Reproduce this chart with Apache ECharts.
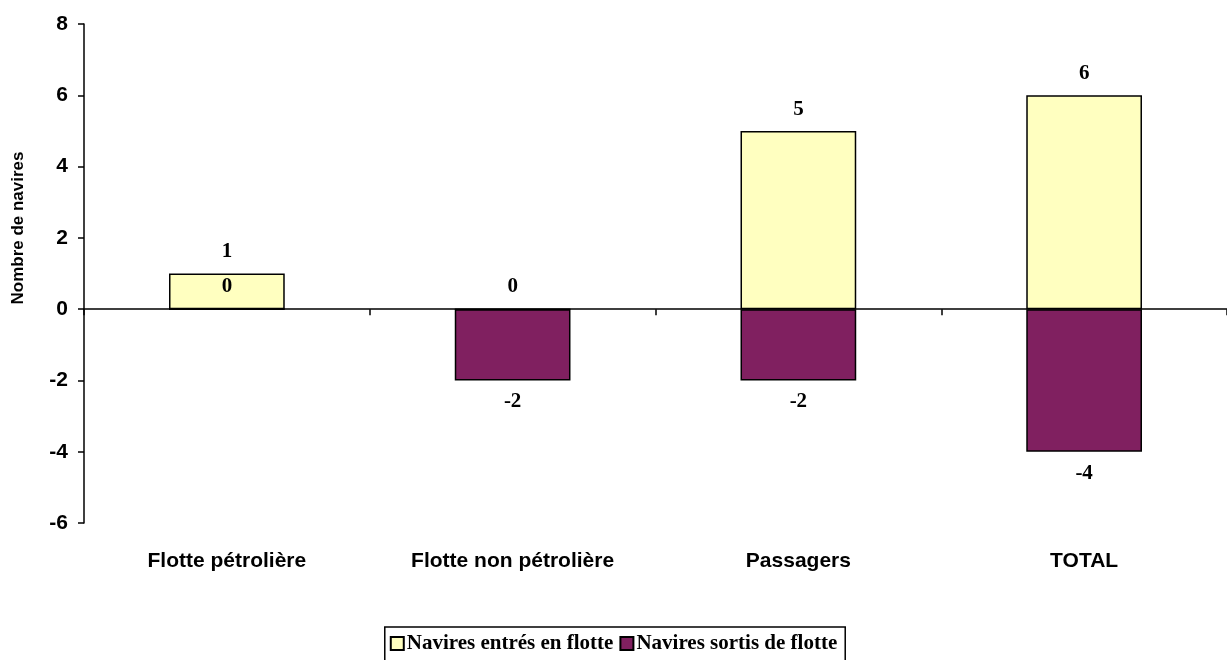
<!DOCTYPE html>
<html>
<head>
<meta charset="utf-8">
<script src="https://cdn.jsdelivr.net/npm/echarts@6/dist/echarts.min.js"></script>
<style>
  html, body { margin: 0; padding: 0; background: #fff; }
  #chart { width: 1227px; height: 660px; }
</style>
</head>
<body>
<div id="chart"></div>
<script>
// data
var categories = ['Flotte pétrolière', 'Flotte non pétrolière', 'Passagers', 'TOTAL'];
var entres = [1, 0, 5, 6];
var sortis = [0, -2, -2, -4];
var seriesNames = ['Navires entrés en flotte', 'Navires sortis de flotte'];
var yTicks = [-6, -4, -2, 0, 2, 4, 6, 8];

// label above for >= 0, below for negatives
function withLabels(arr) {
  return arr.map(function (v) {
    return { value: v, label: { position: v < 0 ? 'bottom' : 'top' } };
  });
}

var chart = echarts.init(document.getElementById('chart'));

var labelStyle = {
  show: true,
  distance: 11,
  color: '#000',
  fontFamily: '"Liberation Serif", "Times New Roman", serif',
  fontWeight: 'bold',
  fontSize: 21
};

var option = {
  animation: false,
  grid: { left: 84, top: 24, width: 1146, height: 499 },
  legend: {
    bottom: -2,
    left: 'center',
    padding: [6, 8, 8, 5],
    borderColor: '#000',
    borderWidth: 1.5,
    itemGap: 6,
    itemWidth: 13,
    itemHeight: 13,
    icon: 'rect',
    textStyle: {
      color: '#000',
      fontFamily: '"Liberation Serif", "Times New Roman", serif',
      fontWeight: 'bold',
      fontSize: 21,
      padding: [0, 0, 0, -2]
    },
    data: seriesNames
  },
  graphic: [{
    type: 'text',
    x: 18,
    y: 228,
    rotation: Math.PI / 2,
    style: {
      text: 'Nombre de navires',
      fill: '#000',
      font: 'bold 17px "Liberation Sans", Arial, sans-serif',
      align: 'center',
      verticalAlign: 'middle'
    }
  }],
  xAxis: [{
    type: 'category',
    data: categories,
    axisLine: { onZero: true, lineStyle: { color: '#000', width: 1.5 } },
    axisTick: { show: true, length: 6, lineStyle: { color: '#000', width: 1.5 } },
    axisLabel: { show: false }
  }, {
    type: 'category',
    data: categories,
    position: 'bottom',
    axisLine: { show: false },
    axisTick: { show: false },
    axisLabel: {
      margin: 28,
      color: '#000',
      fontFamily: '"Liberation Sans", Arial, sans-serif',
      fontWeight: 'bold',
      fontSize: 21
    }
  }],
  yAxis: {
    type: 'value',
    min: yTicks[0],
    max: yTicks[yTicks.length - 1],
    interval: 2,
    splitLine: { show: false },
    axisLine: { show: true, lineStyle: { color: '#000', width: 1.5 } },
    axisTick: { show: true, length: 6, lineStyle: { color: '#000', width: 1.5 } },
    axisLabel: {
      margin: 16,
      color: '#000',
      fontFamily: '"Liberation Sans", Arial, sans-serif',
      fontWeight: 'bold',
      fontSize: 21
    }
  },
  series: [{
    name: seriesNames[0],
    type: 'bar',
    barWidth: '40.5%',
    barGap: '-100%',
    itemStyle: { color: '#FFFFC0', borderColor: '#000', borderWidth: 1.5 },
    label: labelStyle,
    data: withLabels(entres)
  }, {
    name: seriesNames[1],
    type: 'bar',
    barWidth: '40.5%',
    barGap: '-100%',
    itemStyle: { color: '#802060', borderColor: '#000', borderWidth: 1.5 },
    label: labelStyle,
    data: withLabels(sortis)
  }]
};

chart.setOption(option);
</script>
</body>
</html>
